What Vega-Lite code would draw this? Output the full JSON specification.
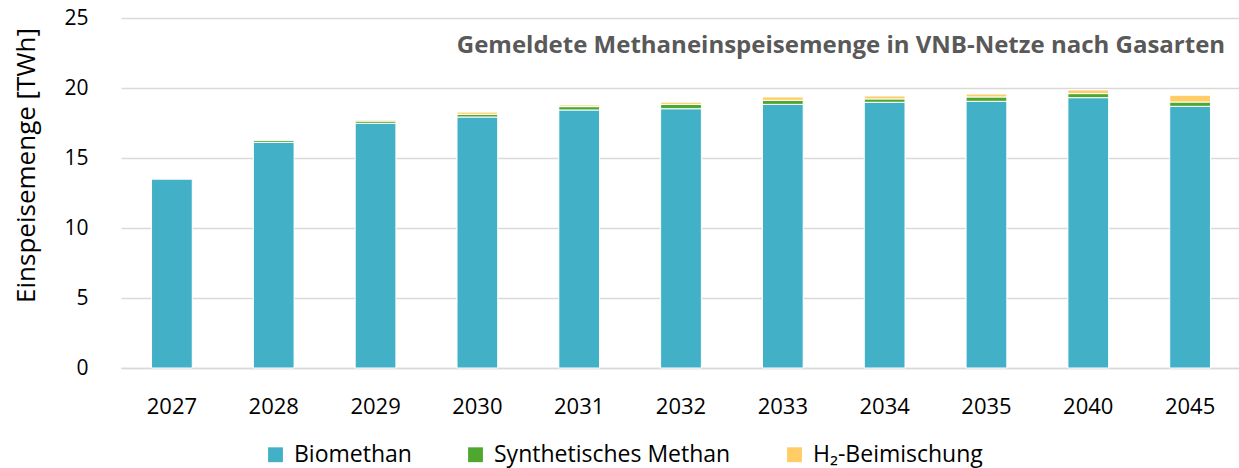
{
  "$schema": "https://vega.github.io/schema/vega-lite/v6.json",
  "width": 1120,
  "height": 350,
  "autosize": {"type": "none"},
  "padding": {"left": 121, "top": 18, "right": 0, "bottom": 100},
  "background": "white",
  "data": {
    "values": [
      {"jahr": "2027", "gasart": "Biomethan", "o": 1, "wert": 13.5},
      {"jahr": "2027", "gasart": "Synthetisches Methan", "o": 2, "wert": 0.05},
      {"jahr": "2027", "gasart": "H₂-Beimischung", "o": 3, "wert": 0.03},
      {"jahr": "2028", "gasart": "Biomethan", "o": 1, "wert": 16.12},
      {"jahr": "2028", "gasart": "Synthetisches Methan", "o": 2, "wert": 0.15},
      {"jahr": "2028", "gasart": "H₂-Beimischung", "o": 3, "wert": 0.05},
      {"jahr": "2029", "gasart": "Biomethan", "o": 1, "wert": 17.48},
      {"jahr": "2029", "gasart": "Synthetisches Methan", "o": 2, "wert": 0.16},
      {"jahr": "2029", "gasart": "H₂-Beimischung", "o": 3, "wert": 0.07},
      {"jahr": "2030", "gasart": "Biomethan", "o": 1, "wert": 17.93},
      {"jahr": "2030", "gasart": "Synthetisches Methan", "o": 2, "wert": 0.19},
      {"jahr": "2030", "gasart": "H₂-Beimischung", "o": 3, "wert": 0.16},
      {"jahr": "2031", "gasart": "Biomethan", "o": 1, "wert": 18.43},
      {"jahr": "2031", "gasart": "Synthetisches Methan", "o": 2, "wert": 0.24},
      {"jahr": "2031", "gasart": "H₂-Beimischung", "o": 3, "wert": 0.12},
      {"jahr": "2032", "gasart": "Biomethan", "o": 1, "wert": 18.52},
      {"jahr": "2032", "gasart": "Synthetisches Methan", "o": 2, "wert": 0.31},
      {"jahr": "2032", "gasart": "H₂-Beimischung", "o": 3, "wert": 0.16},
      {"jahr": "2033", "gasart": "Biomethan", "o": 1, "wert": 18.83},
      {"jahr": "2033", "gasart": "Synthetisches Methan", "o": 2, "wert": 0.29},
      {"jahr": "2033", "gasart": "H₂-Beimischung", "o": 3, "wert": 0.24},
      {"jahr": "2034", "gasart": "Biomethan", "o": 1, "wert": 18.98},
      {"jahr": "2034", "gasart": "Synthetisches Methan", "o": 2, "wert": 0.24},
      {"jahr": "2034", "gasart": "H₂-Beimischung", "o": 3, "wert": 0.21},
      {"jahr": "2035", "gasart": "Biomethan", "o": 1, "wert": 19.05},
      {"jahr": "2035", "gasart": "Synthetisches Methan", "o": 2, "wert": 0.31},
      {"jahr": "2035", "gasart": "H₂-Beimischung", "o": 3, "wert": 0.21},
      {"jahr": "2040", "gasart": "Biomethan", "o": 1, "wert": 19.31},
      {"jahr": "2040", "gasart": "Synthetisches Methan", "o": 2, "wert": 0.29},
      {"jahr": "2040", "gasart": "H₂-Beimischung", "o": 3, "wert": 0.26},
      {"jahr": "2045", "gasart": "Biomethan", "o": 1, "wert": 18.69},
      {"jahr": "2045", "gasart": "Synthetisches Methan", "o": 2, "wert": 0.31},
      {"jahr": "2045", "gasart": "H₂-Beimischung", "o": 3, "wert": 0.48}
    ]
  },
  "layer": [
    {
      "mark": {"type": "bar", "stroke": "white", "strokeWidth": 1},
      "encoding": {
        "x": {
          "field": "jahr",
          "type": "ordinal",
          "scale": {"paddingInner": 0.6, "paddingOuter": 0.3},
          "axis": {
            "title": null,
            "labelAngle": 0,
            "labelFont": "Open Sans",
            "labelFontSize": 22,
            "labelColor": "#000000",
            "labelPadding": 28,
            "ticks": false,
            "domain": true,
            "domainColor": "#D9D9D9",
            "domainWidth": 1.5,
            "grid": false
          }
        },
        "y": {
          "field": "wert",
          "type": "quantitative",
          "stack": "zero",
          "scale": {"domain": [0, 25], "nice": false},
          "axis": {
            "title": "Einspeisemenge [TWh]",
            "titleFont": "Open Sans",
            "titleFontSize": 26,
            "titleFontWeight": "normal",
            "titleColor": "#000000",
            "titlePadding": 24,
            "titleY": 147,
            "values": [0, 5, 10, 15, 20, 25],
            "labelFont": "Open Sans",
            "labelFontSize": 21,
            "labelColor": "#000000",
            "labelPadding": 33,
            "ticks": false,
            "domain": false,
            "grid": true,
            "gridColor": "#D9D9D9",
            "gridWidth": 1.5
          }
        },
        "color": {
          "field": "gasart",
          "type": "nominal",
          "sort": ["Biomethan", "Synthetisches Methan", "H₂-Beimischung"],
          "scale": {
            "domain": ["Biomethan", "Synthetisches Methan", "H₂-Beimischung"],
            "range": ["#42B0C6", "#4EA72E", "#FFCC66"]
          },
          "legend": {
            "title": null,
            "orient": "none",
            "legendX": 143,
            "legendY": 425,
            "direction": "horizontal",
            "symbolType": "square",
            "symbolSize": 220,
            "symbolStrokeWidth": 0,
            "labelFont": "Open Sans",
            "labelFontSize": 23,
            "labelColor": "#000000",
            "labelLimit": 0,
            "columnPadding": 52,
            "labelOffset": 7
          }
        },
        "order": {"field": "o", "type": "quantitative"}
      }
    },
    {
      "data": {"values": [{"jahr": "2045", "titel": "Gemeldete Methaneinspeisemenge in VNB-Netze nach Gasarten", "pos": 22.5}]},
      "mark": {
        "type": "text",
        "align": "right",
        "baseline": "alphabetic",
        "dx": 35,
        "font": "Open Sans",
        "fontSize": 24,
        "fontWeight": "bold",
        "color": "#595959"
      },
      "encoding": {
        "x": {"field": "jahr", "type": "ordinal"},
        "y": {"field": "pos", "type": "quantitative"},
        "text": {"field": "titel"}
      }
    }
  ],
  "config": {"view": {"stroke": null}}
}
